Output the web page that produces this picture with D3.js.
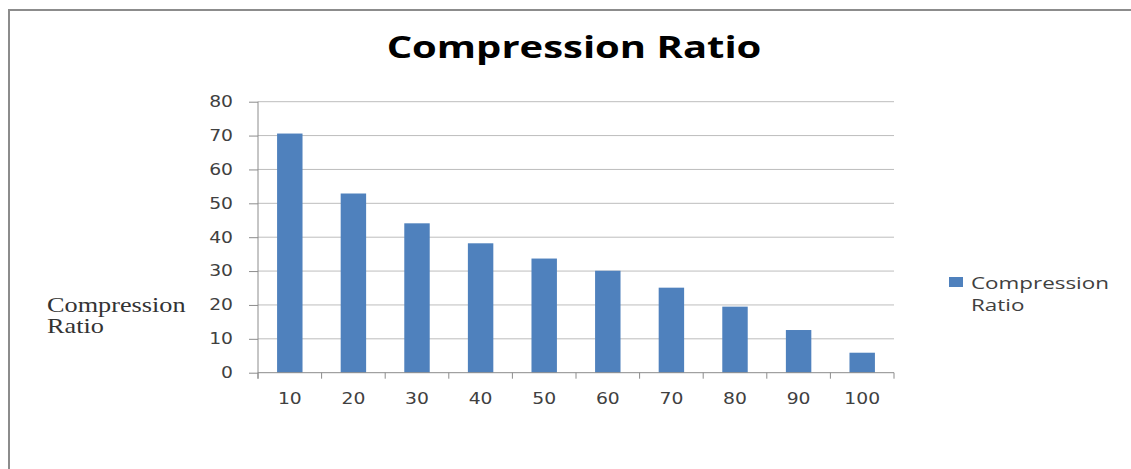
<!DOCTYPE html>
<html lang='en'>

<head>
   <meta charset='UTF-8'>
   <title>Compression Ratio</title>
   <script src='https://d3js.org/d3.v7.min.js'></script>
   <style>
      body {
         margin: 0;
         background: #fff;
      }
   </style>
</head>

<body>
   <div id='svg-container'></div>
   <script>
      // values
      const categories = ['10', '20', '30', '40', '50', '60', '70', '80', '90', '100'];
      const ratios = [70.6, 52.9, 44.1, 38.2, 33.7, 30.1, 25.1, 19.5, 12.6, 5.9];
      const yTicks = [0, 10, 20, 30, 40, 50, 60, 70, 80];
      const seriesName = 'Compression Ratio';

      const data = categories.map((c, i) => ({ cat: c, value: ratios[i] }));

      // the source image is stretched sideways, so text gets a horizontal scale
      const SX = 1.25;

      const svg = d3.select('#svg-container').append('svg').attr('width', 1131).attr('height', 469);

      // frame
      svg.append('path')
         .attr('d', 'M9,469 V10 H1131')
         .attr('fill', 'none')
         .attr('stroke', '#8c8c8c')
         .attr('stroke-width', 2);

      const x = d3.scaleBand()
         .domain(categories)
         .range([258, 894])
         .paddingInner(0.6)
         .paddingOuter(0.3);

      const y = d3.scaleLinear()
         .domain([0, 80])
         .range([372.7, 101.7]);

      // gridlines
      svg.append('g')
         .selectAll('line')
         .data(yTicks.filter(d => d > 0))
         .join('line')
         .attr('x1', 258).attr('x2', 894)
         .attr('y1', d => y(d)).attr('y2', d => y(d))
         .attr('stroke', '#bdbdbd')
         .attr('stroke-width', 1);

      // bars
      svg.append('g')
         .selectAll('rect')
         .data(data)
         .join('rect')
         .attr('x', d => x(d.cat))
         .attr('y', d => y(d.value))
         .attr('width', x.bandwidth())
         .attr('height', d => y(0) - y(d.value))
         .attr('fill', '#4f81bd');

      // left axis
      const leftAxis = svg.append('g')
         .attr('transform', 'translate(258,0)')
         .call(d3.axisLeft(y).tickValues(yTicks).tickSize(9).tickPadding(0));
      leftAxis.select('.domain').attr('stroke', '#8c8c8c').attr('d', `M0,${y(80)}V${y(0) + 6}`);
      leftAxis.selectAll('.tick line').attr('stroke', '#8c8c8c');
      leftAxis.selectAll('.tick text')
         .attr('x', -25 / SX)
         .attr('transform', `scale(${SX},1)`)
         .style('font-family', '"DejaVu Sans", sans-serif')
         .style('font-size', '15px')
         .attr('fill', '#404040');

      // bottom axis: labels at band centres, ticks at band edges
      const bottomAxis = svg.append('g')
         .attr('transform', `translate(0,${y(0)})`)
         .call(d3.axisBottom(x).tickSize(0).tickPadding(0));
      bottomAxis.select('.domain').attr('stroke', '#8c8c8c').attr('d', 'M258,0H894');
      bottomAxis.selectAll('.tick text')
         .attr('y', 31)
         .attr('dy', 0)
         .attr('transform', `scale(${SX},1)`)
         .style('font-family', '"DejaVu Sans", sans-serif')
         .style('font-size', '15px')
         .attr('fill', '#404040');

      const edges = categories.map(c => x(c) - x.step() * x.paddingInner() / 2)
         .concat([x.range()[1]]);
      edges[0] = x.range()[0];
      bottomAxis.append('g')
         .selectAll('line')
         .data(edges)
         .join('line')
         .attr('x1', d => d).attr('x2', d => d)
         .attr('y1', 0).attr('y2', 6)
         .attr('stroke', '#8c8c8c');

      // helper for stretched text
      const label = (px, py, txt, sx = SX) => svg.append('text')
         .attr('transform', `translate(${px},${py}) scale(${sx},1)`)
         .text(txt);

      // title
      label(574, 58, 'Compression Ratio', 1.29)
         .attr('text-anchor', 'middle')
         .style('font-family', '"Open Sans", sans-serif')
         .style('font-weight', 'bold')
         .style('font-size', '31px')
         .attr('fill', '#000');

      // y axis title
      ['Compression', 'Ratio'].forEach((t, i) => {
         label(47, 312 + i * 21, t)
            .style('font-family', '"Liberation Serif", serif')
            .style('font-size', '21px')
            .attr('fill', '#333');
      });

      // legend
      svg.append('rect')
         .attr('x', 949).attr('y', 277)
         .attr('width', 14).attr('height', 10)
         .attr('fill', '#4f81bd');
      seriesName.split(' ').forEach((t, i) => {
         label(971, 289 + i * 22, t, 1.4)
            .style('font-family', '"Open Sans", sans-serif')
            .style('font-size', '16px')
            .attr('fill', '#404040');
      });
   </script>
</body>

</html>
